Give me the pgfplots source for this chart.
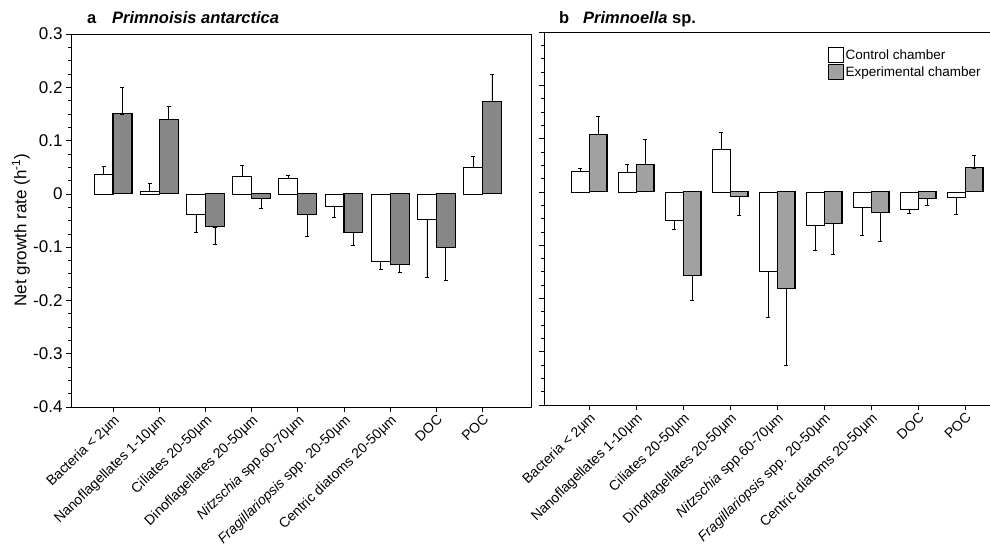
\documentclass[border=0pt]{standalone}
\usepackage{pgfplots}
\pgfplotsset{compat=1.18}
\usepackage{pgfplotstable}
\usepackage{fontspec}
\setmainfont{Liberation Sans}
\usetikzlibrary{patterns.meta}

% net growth rates: c = control, e = experimental; p/m = error bar up/down
\pgfplotstableread{
x c      cp    cm    e       ep    em
0 0.037  0.015 0     0.150   0.049 0
1 0.005  0.014 0     0.139   0.025 0
2 -0.039 0     0.034 -0.062  0     0.033
3 0.032  0.022 0     -0.008  0     0.019
4 0.030  0.005 0     -0.039  0     0.040
5 -0.024 0     0.020 -0.073  0     0.024
6 -0.126 0     0.016 -0.133  0     0.015
7 -0.047 0     0.109 -0.100  0     0.063
8 0.050  0.021 0     0.174   0.050 0
}\antarctica

\pgfplotstableread{
x c      cp    cm    e       ep    em
0 0.039  0.006 0     0.107   0.035 0
1 0.036  0.016 0     0.052   0.047 0
2 -0.053 0     0.018 -0.157  0     0.046
3 0.080  0.031 0     -0.009  0     0.035
4 -0.150 0     0.085 -0.182  0     0.144
5 -0.063 0     0.047 -0.059  0     0.058
6 -0.030 0     0.051 -0.039  0     0.054
7 -0.033 0     0.007 -0.0125 0     0.0125
8 -0.011 0     0.031 0.045   0.023 0
}\primnoella

\pgfplotsset{
  panel/.style={
    scale only axis, height=373pt,
    ymin=-0.4, ymax=0.3,
    ytick={-0.4,-0.3,-0.2,-0.1,0,0.1,0.2,0.3},
    minor y tick num=3,
    xtick={0,1,2,3,4,5,6,7,8},
    xticklabels={Bacteria < 2µm, Nanoflagellates 1-10µm, Ciliates 20-50µm,
      Dinoflagellates 20-50µm, \textit{Nitzschia} spp.60-70µm,
      \textit{Fragillariopsis} spp. 20-50µm, Centric diatoms 20-50µm, DOC, POC},
    xticklabel style={font=\fontsize{14}{14}\selectfont, rotate=44,
      anchor=north east, inner sep=1pt},
    tick align=outside, xtick pos=bottom, ytick pos=left,
    major tick length=5pt, minor tick length=3pt,
    every tick/.style={black, line width=0.6pt},
    axis line style={line width=0.8pt},
  },
  errs/.style={
    error bars/.cd, y dir=both, y explicit,
    error bar style={line width=0.7pt, black},
    error mark options={rotate=90, mark size=2pt, line width=0.7pt, black},
  },
  % bars are placed at shifted x values so the error bars sit on their centres
  ctrl/.style={ybar, bar width=#1, bar shift=0pt, fill=white, draw=black,
    line width=0.7pt, errs},
  expt/.style 2 args={ybar, bar width=#1, bar shift=0pt, fill=gray!#2,
    draw=black, line width=1.1pt,
    postaction={pattern={Dots[distance=2pt, radius=0.55pt]}, pattern color=black},
    errs},
  legend image code/.code={\draw[#1, line width=0.7pt] (0pt,-7pt) rectangle (15pt,8pt);},
}

\begin{document}
\begin{tikzpicture}
\useasboundingbox (0,0) rectangle (990pt,-548pt);

% panel a
\begin{axis}[panel, at={(71pt,-34pt)}, anchor=north west, width=460pt,
  xmin=-0.91, xmax=9.05,
  yticklabels={-0.4,-0.3,-0.2,-0.1,0,0.1,0.2,0.3},
  yticklabel style={font=\fontsize{17}{17}\selectfont}]
\addplot[ctrl=0.41] table[x expr=\thisrow{x}-0.205, y=c,
  y error plus=cp, y error minus=cm] {\antarctica};
\addplot[expt={0.41}{62}] table[x expr=\thisrow{x}+0.205, y=e,
  y error plus=ep, y error minus=em] {\antarctica};
\end{axis}

% panel b
\begin{axis}[panel, at={(544pt,-32pt)}, anchor=north west, width=450pt,
  xmin=-0.96, xmax=8.615, yticklabels={},
  legend style={at={(0.982,0.965)}, anchor=north east, draw=none, fill=none,
    font=\fontsize{13.5}{16}\selectfont, row sep=1pt},
  legend cell align=left]
\addplot[ctrl=0.38] table[x expr=\thisrow{x}-0.19, y=c,
  y error plus=cp, y error minus=cm] {\primnoella};
\addlegendentry{Control chamber}
\addplot[expt={0.38}{35}] table[x expr=\thisrow{x}+0.19, y=e,
  y error plus=ep, y error minus=em] {\primnoella};
\addlegendentry{Experimental chamber}
\end{axis}

% panel titles and shared y label
\node[anchor=base west, inner sep=0, font=\fontsize{16.5}{16.5}\selectfont\bfseries]
  at (87pt,-24pt) {a};
\node[anchor=base west, inner sep=0, font=\fontsize{16.5}{16.5}\selectfont\bfseries\itshape]
  at (112pt,-24pt) {Primnoisis antarctica};
\node[anchor=base west, inner sep=0, font=\fontsize{16.5}{16.5}\selectfont\bfseries]
  at (559pt,-24pt) {b};
\node[anchor=base west, inner sep=0, font=\fontsize{16.5}{16.5}\selectfont\bfseries]
  at (583pt,-24pt) {\textit{Primnoella} sp.};
\node[rotate=90, font=\fontsize{17}{17}\selectfont] at (21pt,-230pt)
  {Net growth rate (h\textsuperscript{-1})};
\end{tikzpicture}
\end{document}
